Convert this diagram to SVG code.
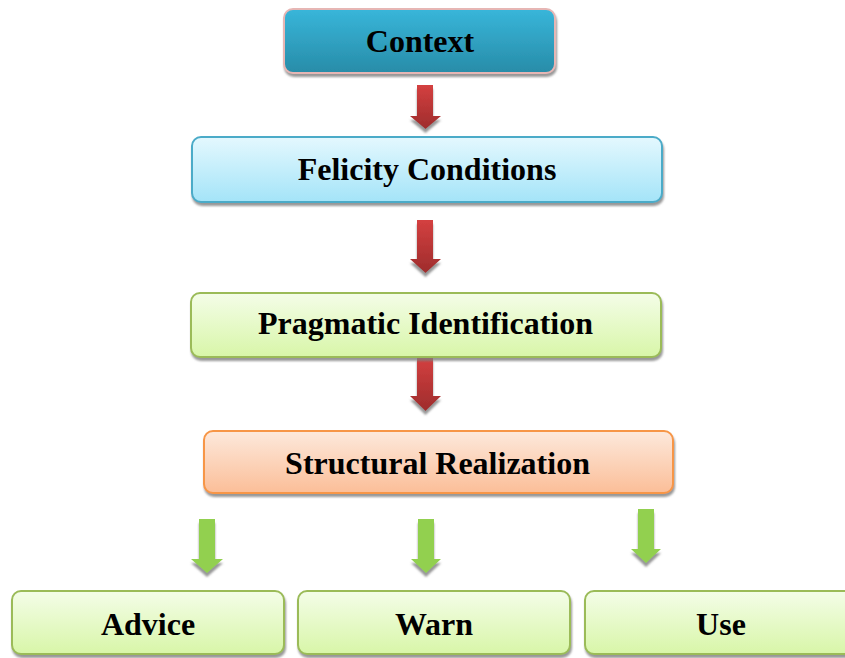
<svg xmlns="http://www.w3.org/2000/svg" width="845" height="658" viewBox="0 0 845 658">
<style>
.lbl{font-family:"Liberation Serif","Times New Roman",serif;font-weight:bold;font-size:32px;fill:#000;text-anchor:middle}
.box{stroke-width:2;filter:url(#sh)}
.red{fill:url(#gRed);filter:url(#ash)}
.grn{fill:#92d050;filter:url(#ash)}
</style>
<defs>
<filter id="sh" x="-5%" y="-20%" width="110%" height="150%">
<feDropShadow dx="1" dy="3" stdDeviation="1" flood-color="#7f7f7f" flood-opacity="0.8"/>
</filter>
<filter id="ash" x="-30%" y="-10%" width="160%" height="130%">
<feDropShadow dx="0" dy="4" stdDeviation="0.8" flood-color="#8c8c8c" flood-opacity="0.9"/>
</filter>
<linearGradient id="gCtx" x1="0" y1="0" x2="0" y2="1"><stop offset="0" stop-color="#38b6da"/><stop offset="1" stop-color="#288ca8"/></linearGradient>
<linearGradient id="gFel" x1="0" y1="0" x2="0" y2="1"><stop offset="0" stop-color="#e4f8fe"/><stop offset="1" stop-color="#a4e4f8"/></linearGradient>
<linearGradient id="gGrn" x1="0" y1="0" x2="0" y2="1"><stop offset="0" stop-color="#f4fde8"/><stop offset="1" stop-color="#d8f6a8"/></linearGradient>
<linearGradient id="gOr" x1="0" y1="0" x2="0" y2="1"><stop offset="0" stop-color="#fde9dc"/><stop offset="1" stop-color="#fbbe98"/></linearGradient>
<linearGradient id="gRed" x1="0" y1="0" x2="0" y2="1"><stop offset="0" stop-color="#d44040"/><stop offset="1" stop-color="#9e2c2c"/></linearGradient>
</defs>
<g id="connectors">
<path class="red" d="M417,85 H433 V116 H441 L425.5,129 L410,116 H417 Z"/>
<path class="red" d="M417,220 H433 V259 H441 L425.5,273 L410,259 H417 Z"/>
<path class="red" d="M417,357 H433 V396 H441 L425.5,411 L410,396 H417 Z"/>
<path class="grn" d="M199,519 H215 V559 H223 L207,573 L191,559 H199 Z"/>
<path class="grn" d="M418,519 H434 V559 H441 L426,573 L411,559 H418 Z"/>
<path class="grn" d="M638,509 H654 V549 H661 L646,563 L631,549 H638 Z"/>
</g>
<g id="context">
<rect class="box" x="284" y="9" width="271" height="64" rx="9" fill="url(#gCtx)" stroke="#e6b6b4"/>
<text class="lbl" x="420" y="52">Context</text>
</g>
<g id="felicity">
<rect class="box" x="192" y="137" width="470" height="65" rx="9" fill="url(#gFel)" stroke="#4babc8"/>
<text class="lbl" x="427" y="180">Felicity Conditions</text>
</g>
<g id="pragmatic">
<rect class="box" x="191" y="293" width="470" height="64" rx="9" fill="url(#gGrn)" stroke="#9bbb59"/>
<text class="lbl" x="425.5" y="334">Pragmatic Identification</text>
</g>
<g id="structural">
<rect class="box" x="204" y="431" width="469" height="62" rx="9" fill="url(#gOr)" stroke="#f79646"/>
<text class="lbl" x="437.5" y="474">Structural Realization</text>
</g>
<g id="advice">
<rect class="box" x="12" y="591" width="272" height="63" rx="9" fill="url(#gGrn)" stroke="#9bbb59"/>
<text class="lbl" x="148" y="635">Advice</text>
</g>
<g id="warn">
<rect class="box" x="298" y="591" width="272" height="63" rx="9" fill="url(#gGrn)" stroke="#9bbb59"/>
<text class="lbl" x="434" y="635">Warn</text>
</g>
<g id="use">
<rect class="box" x="585" y="591" width="272" height="63" rx="9" fill="url(#gGrn)" stroke="#9bbb59"/>
<text class="lbl" x="721" y="635">Use</text>
</g>
</svg>
